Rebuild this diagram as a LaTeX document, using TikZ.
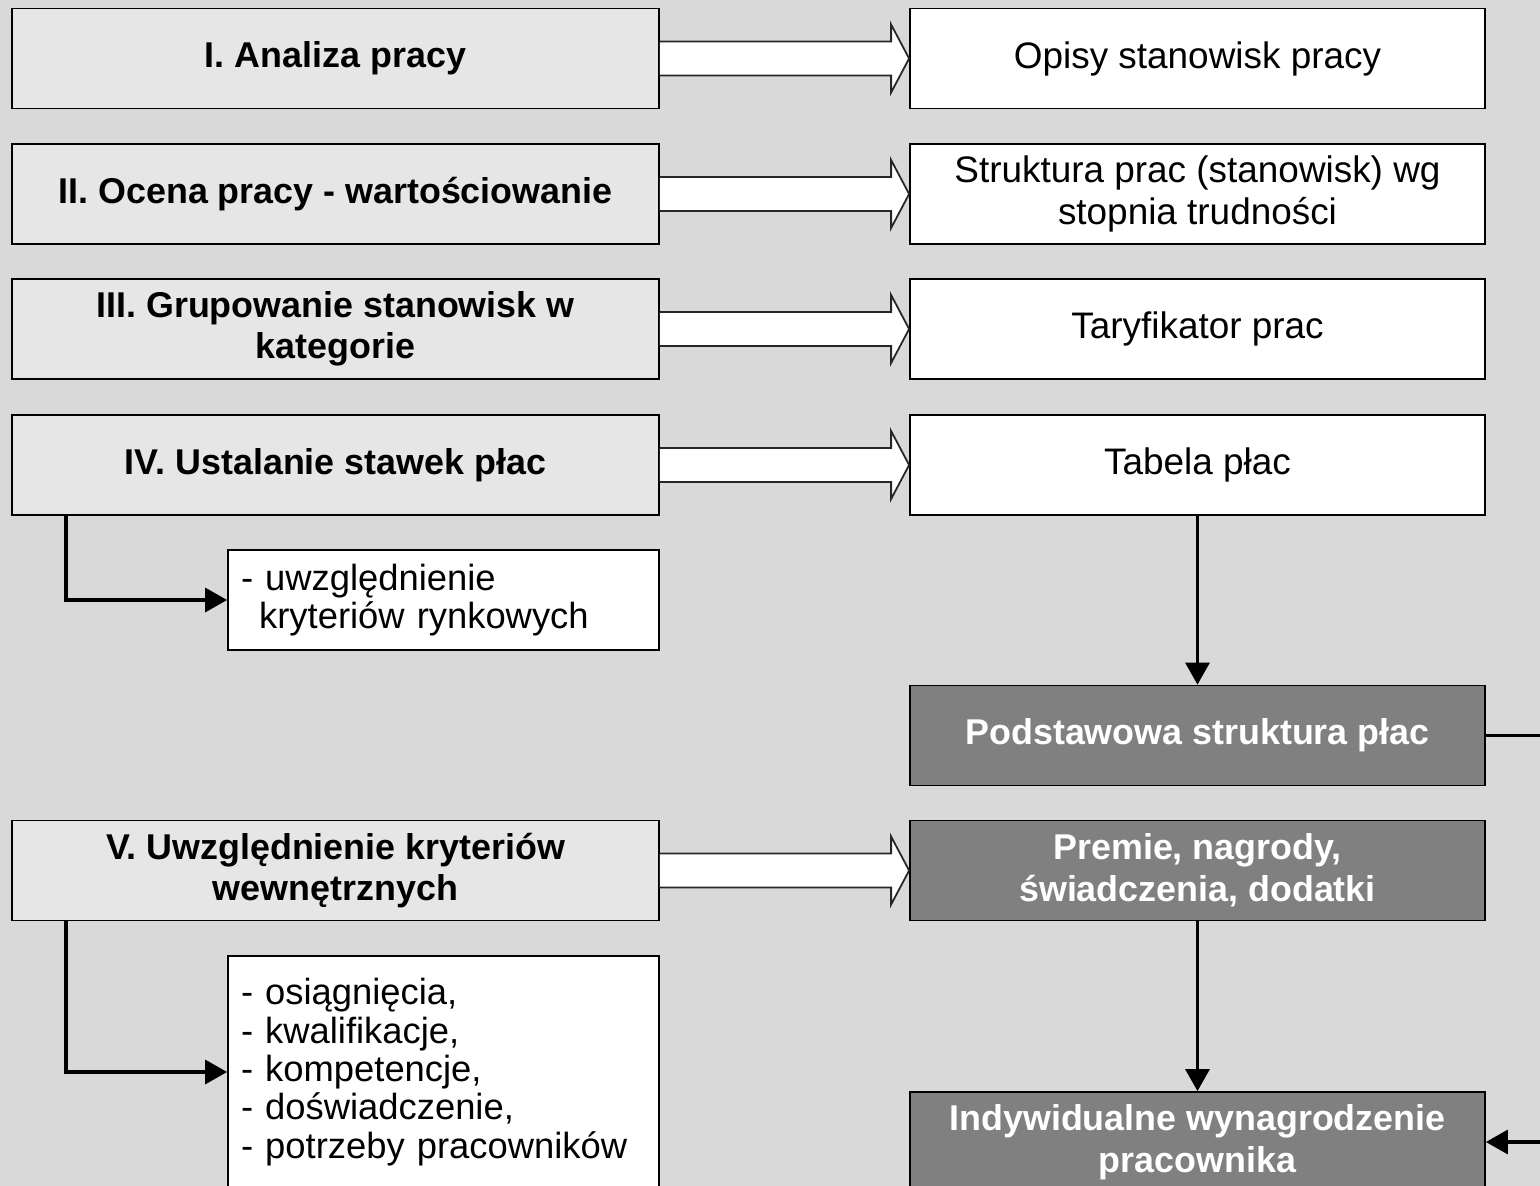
\documentclass[tikz,border=0pt]{standalone}
\usepackage{fontspec}
\setmainfont{Liberation Sans}
\usetikzlibrary{arrows.meta,calc,positioning}

\definecolor{bggray}{HTML}{D9D9D9}
\definecolor{stepgray}{HTML}{E6E6E6}
\definecolor{darkgray}{HTML}{808080}

\tikzset{
  anybox/.style={draw,line width=0.5pt,minimum height=1cm,align=center,font=\fontsize{10.5}{11.8}\selectfont},
  leftbox/.style={anybox,fill=stepgray,minimum width=6.47cm,font=\fontsize{10.2}{11.8}\selectfont\bfseries},
  resbox/.style={anybox,fill=white,minimum width=5.75cm},
  darkbox/.style={anybox,fill=darkgray,text=white,minimum width=5.75cm,font=\fontsize{10.2}{11.8}\selectfont\bfseries},
  notebox/.style={draw,fill=white,line width=0.5pt,minimum width=4.31cm,align=left,text width=4.05cm,font=\fontsize{10.35}{10.9}\selectfont},
  link/.style={line width=0.9pt,-{Triangle[width=2.4mm,length=2.2mm]}},
  hollow/.style={draw=black!85,fill=white,line width=0.5pt}
}
% wide open arrow from box to box
\newcommand\bigarrow[2]{%
  \path[hollow] ($(#1.east)+(0,0.17)$) -- ($(#2.west)+(-0.18,0.17)$) -- ($(#2.west)+(-0.18,0.34)$)
    -- (#2.west) -- ($(#2.west)+(-0.18,-0.34)$) -- ($(#2.west)+(-0.18,-0.17)$) -- ($(#1.east)+(0,-0.17)$);}

\begin{document}
\begin{tikzpicture}[>=Stealth]
\fill[bggray] (0,0) rectangle (15.4,-11.86);
\useasboundingbox (0,0) rectangle (15.4,-11.86);

% steps
\node[leftbox] (analiza) at (3.355,-0.585) {I. Analiza pracy};
\node[leftbox] (ocena) at (3.355,-1.94) {II. Ocena pracy - wartościowanie};
\node[leftbox] (grupy) at (3.355,-3.29) {III. Grupowanie stanowisk w\\kategorie};
\node[leftbox] (stawki) at (3.355,-4.65) {IV. Ustalanie stawek płac};
\node[leftbox] (kryteria) at (3.355,-8.705) {V. Uwzględnienie kryteriów\\wewnętrznych};

% results
\node[resbox] (opisy) at (11.975,-0.585) {Opisy stanowisk pracy};
\node[resbox] (struktura) at (11.975,-1.94) {Struktura prac (stanowisk) wg\\stopnia trudności};
\node[resbox] (taryf) at (11.975,-3.29) {Taryfikator prac};
\node[resbox] (tabela) at (11.975,-4.65) {Tabela płac};
\node[darkbox] (podst) at (11.975,-7.355) {Podstawowa struktura płac};
\node[darkbox] (premie) at (11.975,-8.705) {Premie, nagrody,\\świadczenia, dodatki};
\node[darkbox] (indyw) at (11.975,-11.42) {Indywidualne wynagrodzenie\\pracownika};

% notes
\node[notebox,minimum height=1cm] (rynek) at (4.435,-6.0) {- uwzględnienie\\\hspace*{0.5em}kryteriów rynkowych};
\node[notebox,minimum height=2.32cm] (cechy) at (4.435,-10.72) {- osiągnięcia,\\- kwalifikacje,\\- kompetencje,\\- doświadczenie,\\- potrzeby pracowników};

\bigarrow{analiza}{opisy}
\bigarrow{ocena}{struktura}
\bigarrow{grupy}{taryf}
\bigarrow{stawki}{tabela}
\bigarrow{kryteria}{premie}

\draw[link] (stawki.south -| 0.66,0) |- (rynek.west);
\draw[link] (kryteria.south -| 0.66,0) |- (cechy.west);
\draw[link] (tabela) -- (podst);
\draw[link] (premie) -- (indyw);
\coordinate (edge) at (15.6,0);
\draw[link] (podst.east) -- (podst.east -| edge) |- (indyw.east);
\end{tikzpicture}
\end{document}
